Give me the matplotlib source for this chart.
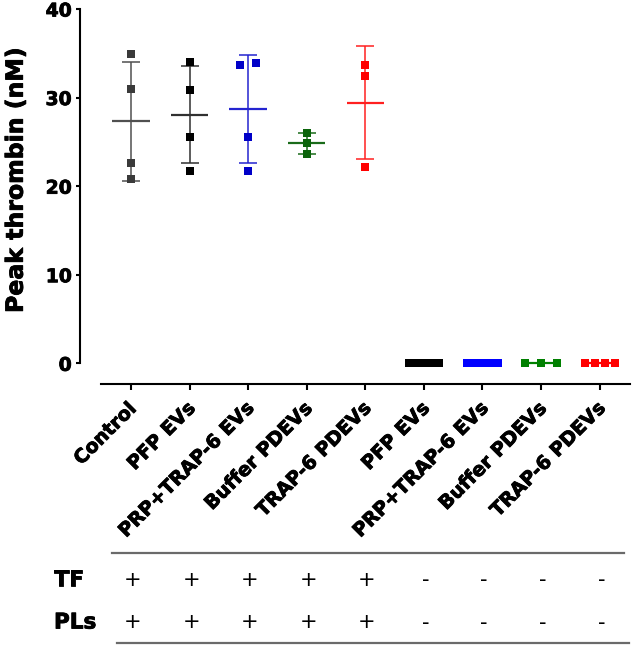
import numpy as np
import matplotlib
matplotlib.use("Agg")
import matplotlib.pyplot as plt
import matplotlib.transforms as mtransforms
import matplotlib.patheffects as pe

# ---- data ----
categories = ["Control", "PFP EVs", "PRP+TRAP-6 EVs", "Buffer PDEVs", "TRAP-6 PDEVs",
              "PFP EVs", "PRP+TRAP-6 EVs", "Buffer PDEVs", "TRAP-6 PDEVs"]
control = [34.9, 30.96, 22.6, 20.8]
pfp_evs = [34.07, 30.9, 25.5, 21.76]
prp_trap_evs = [33.7, 33.95, 25.5, 21.76]
buffer_pdevs = [26.0, 24.87, 23.67]
trap_pdevs = [33.7, 32.45, 22.13]
pfp_evs_neg = [0, 0, 0, 0, 0]
prp_trap_evs_neg = [0, 0, 0, 0, 0]
buffer_pdevs_neg = [0, 0, 0]
trap_pdevs_neg = [0, 0, 0, 0]
tf_signs = ["+", "+", "+", "+", "+", "-", "-", "-", "-"]
pl_signs = ["+", "+", "+", "+", "+", "-", "-", "-", "-"]
yticks = [0, 10, 20, 30, 40]

groups = [control, pfp_evs, prp_trap_evs, buffer_pdevs, trap_pdevs,
          pfp_evs_neg, prp_trap_evs_neg, buffer_pdevs_neg, trap_pdevs_neg]

# ---- styles ----
marker_colors = ["#3a3a3a", "#000000", "#0000c8", "#0b640b", "#ff0000",
                 "#000000", "#0000ff", "#008000", "#ff0000"]
line_colors = ["#505050", "#303030", "#2424d0", "#1a6b1a", "#ff2020",
               "#000000", "#0000ff", "#008000", "#ff0000"]
jitter = [[0, 0, 0, 0],
          [0, 0, 0, 0],
          [-0.137, 0.137, 0, 0],
          [0, 0, 0],
          [0, 0, 0],
          [-0.26, -0.13, 0, 0.13, 0.26],
          [-0.26, -0.13, 0, 0.13, 0.26],
          [-0.27, 0, 0.27],
          [-0.256, -0.085, 0.085, 0.256]]

W, H = 632, 645
fig = plt.figure(figsize=(W / 100, H / 100), dpi=100)
ax = fig.add_axes([80 / W, (H - 383.5) / H, 550 / W, 374.5 / H])
ax.set_xlim(-0.87, 8.52)
ax.set_ylim(-2.28, 40.0)

FONT = "DejaVu Sans"
heavy = [pe.withStroke(linewidth=0.6, foreground="black")]

for i, vals in enumerate(groups):
    vals = np.asarray(vals, dtype=float)
    m = vals.mean()
    sd = vals.std(ddof=1)
    ax.errorbar([i], [m], yerr=[sd], fmt="none", ecolor=line_colors[i],
                elinewidth=1.1, capsize=6.4, capthick=1.1, zorder=2, clip_on=False)
    ax.hlines(m, i - 0.32, i + 0.32, colors=line_colors[i], linewidth=1.6, zorder=2,
              clip_on=False)
    ax.plot(i + np.asarray(jitter[i]), vals, linestyle="none", marker="s",
            markersize=6, markeredgewidth=0, color=marker_colors[i], zorder=3,
            clip_on=False)

# spines
for s in ["top", "right"]:
    ax.spines[s].set_visible(False)
ax.spines["left"].set_bounds(0, 40)
ax.spines["bottom"].set_bounds(-0.51, 8.52)
ax.spines["left"].set_linewidth(1.5)
ax.spines["bottom"].set_linewidth(1.5)

ax.set_yticks(yticks)
ax.set_yticklabels([str(v) for v in yticks], fontsize=13.5, fontweight="bold",
                   family=FONT)
ax.tick_params(axis="y", length=3, width=1.5, pad=3)
ax.tick_params(axis="x", length=4, width=1.5, pad=7)
for lab in ax.get_yticklabels():
    lab.set_path_effects(heavy)

ax.set_xticks(range(len(categories)))
ax.set_xticklabels(categories, rotation=45, ha="right", va="top",
                   rotation_mode="anchor", fontsize=13.8, fontweight="bold",
                   family=FONT)
offset = mtransforms.ScaledTranslation(-4 / 100, 0, fig.dpi_scale_trans)
for lab in ax.get_xticklabels():
    lab.set_transform(lab.get_transform() + offset)
    lab.set_path_effects(heavy)

ax.set_ylabel("Peak thrombin (nM)", fontsize=17, fontweight="bold", family=FONT,
              path_effects=heavy)
ax.yaxis.set_label_coords(-0.095, 0.5434)

# ---- TF / PLs table ----
blend = mtransforms.blended_transform_factory(ax.transData, fig.transFigure)
y_up = (H - 553.3) / H
y_lo = (H - 643.3) / H
ax.plot([-0.33, 8.42], [y_up, y_up], transform=blend, color="#6a6a6a",
        linewidth=1.6, clip_on=False)
ax.plot([-0.24, 8.5], [y_lo, y_lo], transform=blend, color="#6a6a6a",
        linewidth=1.6, clip_on=False)
y_tf = (H - 580) / H
y_pl = (H - 622.5) / H
fig.text(54 / W, y_tf, "TF", fontsize=15.5, fontweight="bold", family=FONT,
         ha="left", va="center", path_effects=heavy)
fig.text(54 / W, y_pl, "PLs", fontsize=15.5, fontweight="bold", family=FONT,
         ha="left", va="center", path_effects=heavy)
for i in range(len(categories)):
    ax.text(i + 0.03, y_tf, tf_signs[i], transform=blend, fontsize=15,
            family=FONT, ha="center", va="center")
    ax.text(i + 0.03, y_pl, pl_signs[i], transform=blend, fontsize=15,
            family=FONT, ha="center", va="center")

fig.savefig("out.png", dpi=100)
